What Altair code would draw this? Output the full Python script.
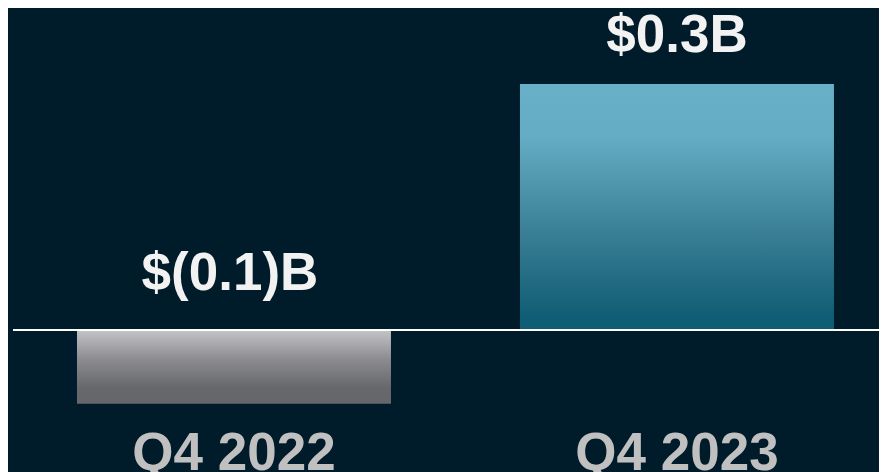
import altair as alt
import pandas as pd

quarters = ["Q4 2022", "Q4 2023"]
values = [-0.09, 0.3]
labels = ["$(0.1)B", "$0.3B"]

df = pd.DataFrame({"quarter": quarters, "value": values, "label": labels})

BG = "#001c2a"
FONT = "Liberation Sans"

xscale = alt.Scale(domain=quarters, paddingInner=0.2912, paddingOuter=0.1287, align=0.605)
yscale = alt.Scale(domain=[-0.17317, 0.39268], nice=False, zero=False)

X = alt.X("quarter:N", scale=xscale, axis=None)
Y = alt.Y("value:Q", scale=yscale, axis=None)

gray_grad = {
    "gradient": "linear", "x1": 0, "x2": 0, "y1": 0, "y2": 1,
    "stops": [{"color": "#c4c4c8", "offset": 0},
              {"color": "#8c8c90", "offset": 0.4},
              {"color": "#67686c", "offset": 0.78},
              {"color": "#66676b", "offset": 1}],
}
blue_grad = {
    "gradient": "linear", "x1": 0, "x2": 0, "y1": 0, "y2": 1,
    "stops": [{"color": "#67b0c7", "offset": 0},
              {"color": "#64acc3", "offset": 0.22},
              {"color": "#3a7f95", "offset": 0.6},
              {"color": "#105e75", "offset": 0.94},
              {"color": "#0f5d74", "offset": 1}],
}

base = alt.Chart(df).transform_calculate(zero="0")

bar_neg = base.transform_filter(alt.datum.value < 0).mark_bar(color=gray_grad).encode(
    x=X, y=Y, y2="zero:Q"
)
bar_pos = base.transform_filter(alt.datum.value >= 0).mark_bar(color=blue_grad).encode(
    x=X, y=Y, y2="zero:Q"
)

rule = base.mark_rule(color="white", strokeWidth=2).encode(
    y=alt.Y("zero:Q", scale=yscale, axis=None), x=alt.value(5), x2=alt.value(871)
)

lab_pos = base.transform_filter(alt.datum.value >= 0).mark_text(
    font=FONT, fontWeight="bold", fontSize=53, color="#f2f2f2",
    baseline="alphabetic", align="center", dy=-32
).encode(x=X, y=Y, text="label:N")

lab_neg = base.transform_filter(alt.datum.value < 0).mark_text(
    font=FONT, fontWeight="bold", fontSize=53, color="#f2f2f2",
    baseline="alphabetic", align="center", dy=-40, dx=-4
).encode(x=X, y=alt.Y("zero:Q", scale=yscale, axis=None), text="label:N")

cat = base.mark_text(
    font=FONT, fontWeight="bold", fontSize=53, color="#c0c0c0",
    baseline="alphabetic", align="center"
).encode(x=X, y=alt.value(462), text="quarter:N")

chart = alt.layer(bar_neg, bar_pos, rule, lab_pos, lab_neg, cat).properties(
    width=871, height=464, background=BG, padding=0,
    autosize=alt.AutoSizeParams(type="none"),
).configure_view(stroke=None, fill=BG)

chart.save("out.html", embed_options={"renderer": "svg", "actions": False})
